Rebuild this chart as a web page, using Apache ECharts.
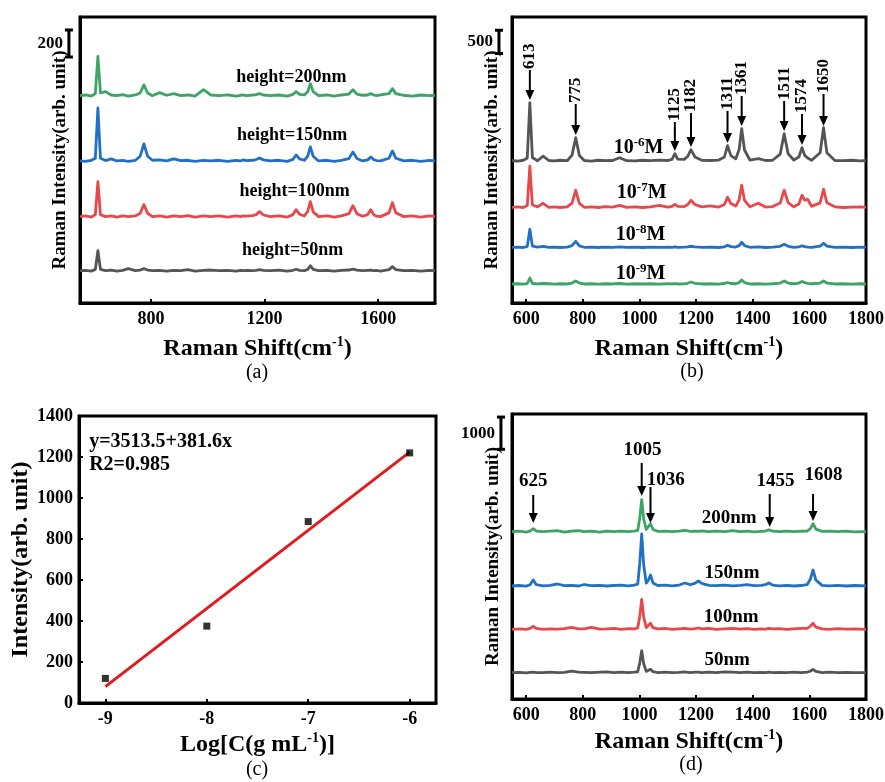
<!DOCTYPE html>
<html><head><meta charset="utf-8">
<script src="https://cdn.jsdelivr.net/npm/echarts@6/dist/echarts.min.js"></script>
<style>html,body{margin:0;padding:0;background:#fff}#c{width:885px;height:782px}</style>
</head><body><div id="c"></div><script>
// ---------- DATA ----------
// Raman shift sampling used for panels (a) and (b) (cm-1)
const SHIFT_AB = [550,570,590,604,613,622,640,660,680,700, 720,745,762,775,788,805,830,855,880,905,
  930,955,985,1010,1040,1070,1100,1115,1125,1135, 1158,1170,1182,1196,1220,1250,1280,1300,1311,1323,
  1340,1352,1361,1371,1390,1420,1445,1470,1497,1511, 1525,1545,1563,1574,1584,1594,1608,1638,1650,1662,
  1690,1720,1750,1780,1800];
// (a) intensities above each baseline (arb. unit), by pillar height
const A_50NM  = [0,3,-3,10,148,10,0,5,-3,3, 15,0,5,15,5,0,3,-3,3,0, 8,-3,3,5,0,3,-3,3,0,3, 0,3,8,3,0,5,-3,3,11,3, 0,10,37,10,0,3,-3,3,5,12, 5,0,3,5,0,3,-3,8,30,8, 0,3,-3,3,0];
const A_100NM = [0,5,-3,15,259,15,0,5,-3,5, 0,5,25,89,25,0,5,-3,5,0, 8,-3,5,0,5,-3,5,0,5,3, 8,15,37,12,0,5,-3,15,52,18, 5,40,111,35,0,5,-3,5,22,81, 22,3,15,52,15,3,0,28,104,28, 0,5,-3,5,0];
const A_150NM = [0,-3,5,20,392,20,3,15,0,5, -3,5,35,126,35,5,8,0,15,3, 5,-3,5,0,5,-3,5,0,8,3, 5,10,22,8,0,5,-3,12,44,15, 5,35,104,35,0,5,-3,5,18,67, 18,0,8,30,10,3,0,20,74,20, 0,5,-3,5,0];
const A_200NM = [0,5,-3,15,290,20,30,5,0,8, -3,5,20,80,20,0,22,3,15,0, 5,-3,44,5,0,6,-3,3,5,0, 5,8,15,5,0,5,-3,10,30,10, 5,30,89,30,0,5,-3,5,12,44, 12,3,5,15,5,0,5,15,52,15, 3,-3,5,0,3];
const A_OFFSETS = [239, 639, 1051, 1534];          // 50, 100, 150, 200 nm
const A_LABELS = ['height=50nm','height=100nm','height=150nm','height=200nm'];
const A_LABEL_X = [1299, 1306, 1297, 1294];
const A_LABEL_Y = [392, 824, 1238, 1667];
const A_SCALE = 200;

// (b) intensities above each baseline, by concentration
const B_1E6 = [5,-10,10,60,1247,70,0,100,5,-5, 10,0,120,495,110,5,-8,10,0,5, 65,0,-5,10,0,15,5,30,150,35, 30,90,237,80,10,5,15,80,323,110, 40,240,688,230,15,45,5,10,140,580, 150,15,80,280,110,60,10,170,710,170, 5,0,10,-5,5];
const B_1E7 = [0,10,-5,40,882,50,10,86,0,10, -5,10,90,366,85,0,10,-5,15,5, 43,0,10,-5,10,43,5,20,65,20, 15,55,150,60,10,32,5,60,215,80, 25,160,473,150,10,86,5,15,90,366, 100,10,70,258,150,172,20,95,387,95, 10,-5,5,10,0];
const B_1E8 = [0,5,-5,20,387,25,5,20,0,5, -5,5,35,129,30,0,5,-5,5,0, 10,0,5,-5,5,0,5,0,10,0, 5,10,22,10,0,5,-5,10,43,15, 5,35,108,35,0,10,-5,5,20,65, 20,0,10,32,15,5,0,25,86,25, 0,5,-5,5,0];
const B_1E9 = [0,5,-5,10,129,10,0,10,5,-5, 5,0,20,65,20,0,5,-5,5,0, 10,-5,5,0,5,-5,5,0,10,0, 5,15,43,15,0,5,-5,10,32,10, 5,30,86,30,0,5,-5,5,20,65, 20,5,20,54,30,15,5,20,65,20, 0,5,-5,5,0];
const B_OFFSETS = [3059, 2058, 1198, 409];         // 1e-6, 1e-7, 1e-8, 1e-9 M
const B_LABELS = ['{m|10}{s|-6}{m|M}','{m|10}{s|-7}{m|M}','{m|10}{s|-8}{m|M}','{m|10}{s|-9}{m|M}'];
const B_LABEL_X = [997, 1008, 1004, 1004];
const B_LABEL_Y = [3360, 2386, 1483, 645];
const B_PEAKS = [613, 775, 1125, 1182, 1311, 1361, 1511, 1574, 1650];
const B_PEAK_TIP  = [4365, 3612, 3268, 3354, 3440, 3806, 3698, 3397, 3806];
const B_PEAK_TAIL = [5010, 4279, 3892, 4085, 4128, 4451, 4343, 4064, 4494];
const B_SCALE = 500;

// (c) linear fit
const C_LOGC = [-9, -8, -7, -6];
const C_INT  = [120, 375, 885, 1220];
const C_FIT_X = [-9, -6];
const C_FIT_Y = [80, 1224];
const C_TEXT = ['y=3513.5+381.6x', 'R2=0.985'];
const C_TEXT_X = [-9.16, -9.16];
const C_TEXT_Y = [1273, 1161];

// (d) Raman shift sampling and intensities by thickness
const SHIFT_D = [550,575,600,614,625,636,660,685,710,735, 760,785,805,830,860,885,910,935,960,982,
  994,1001,1008,1015,1024,1031,1039,1048,1065,1090, 1115,1140,1160,1180,1197,1208,1220,1245,1270,1300,
  1330,1355,1380,1405,1430,1445,1457,1470,1495,1520, 1545,1570,1592,1603,1613,1623,1645,1670,1700,1730,
  1760,1800];
const D_50NM  = [0,10,-5,10,20,5,0,15,5,10, 46,20,10,0,15,25,5,15,0,15, 30,300,682,280,40,55,105,30,5,15, 0,10,25,5,15,20,5,15,0,25, 15,5,15,0,10,5,15,0,10,5, 15,0,20,45,105,40,5,15,0,10, 5,0];
const D_100NM = [0,10,-5,25,93,25,0,15,5,20, 62,10,15,62,5,15,30,0,20,15, 40,400,930,380,50,90,186,50,10,25, 0,15,30,5,20,40,10,25,0,15, 30,5,20,0,15,5,25,10,20,0, 15,30,30,90,186,70,15,0,20,5, 15,0];
const D_150NM = [0,15,-5,40,186,40,5,20,62,10, 20,0,46,10,20,0,15,25,5,30, 60,700,1612,650,90,170,341,90,15,25, 5,30,93,40,90,155,80,20,10,25, 5,20,46,10,20,40,93,30,5,20, 0,15,40,200,496,180,20,5,20,0, 15,5];
const D_200NM = [0,15,-10,20,93,20,0,15,30,-10, 15,30,0,15,-10,20,5,15,0,15, 40,420,992,400,70,130,248,70,10,20, 0,15,40,10,20,10,25,0,15,5, 35,0,15,-5,10,20,62,15,5,15, 0,15,20,90,248,80,10,20,0,15, -5,5];
const D_OFFSETS = [815, 2161, 3503, 5186];         // 50, 100, 150, 200 nm
const D_LABELS = ['50nm','100nm','150nm','200nm'];
const D_LABEL_X = [1310, 1324, 1327, 1317];
const D_LABEL_Y = [1209, 2542, 3906, 5611];
const D_PEAKS = ['625','1005','1036','1455','1608'];
const D_PEAK_X = [625, 1008, 1039, 1460, 1613];
const D_PEAK_TIP  = [5456, 6293, 5456, 5332, 5518];
const D_PEAK_TAIL = [6324, 7316, 6572, 6355, 6355];
const D_PEAK_LABEL_X = [625, 1011, 1093, 1480, 1650];
const D_PEAK_LABEL_Y = [6758, 7719, 6789, 6758, 6944];
const D_SCALE = 1000;

// ---------- LAYOUT / STYLE ----------
const FONT = "'Liberation Serif','Times New Roman',serif";
const COL = ['#555555', '#E8474C', '#2270C6', '#3BA466'];
const Y_MAX = [2116, 6149, 1400, 8835];
const SCALE_POS = [[511, 1820], [504, 5364], [511, 7740]]; // x value & bottom of scale bars

function richSup(size, sup) {
  return {
    m: {fontFamily: FONT, fontWeight: 'bold', fontSize: size, lineHeight: size + 2, verticalAlign: 'bottom', color: '#000', fill: '#000'},
    s: {fontFamily: FONT, fontWeight: 'bold', fontSize: sup, lineHeight: sup, verticalAlign: 'top', color: '#000', fill: '#000'}
  };
}

function lineSeries(gi, xs, ys, off, color) {
  return {type: 'line', xAxisIndex: gi, yAxisIndex: gi, data: xs.map((x, i) => [x, ys[i] + off]),
    showSymbol: false, symbol: 'none', lineStyle: {color: color, width: 2.8, join: 'round'}, itemStyle: {color: color},
    animation: false, silent: true, z: 2};
}

function textSeries(gi, xs, ys, texts, o) {
  return {type: 'custom', xAxisIndex: gi, yAxisIndex: gi, clip: false, silent: true, z: 10, animation: false,
    data: xs.map((x, i) => [x, ys[i]]),
    renderItem: (params, api) => {
      const p = api.coord([api.value(0), api.value(1)]);
      const al = o.align || 'center';
      return {type: 'text', x: p[0], y: p[1], rotation: o.rotation || 0,
        style: {text: texts[params.dataIndex], font: 'bold ' + o.size + 'px ' + FONT, fill: '#000',
          textAlign: al, align: al, textVerticalAlign: 'middle', verticalAlign: 'middle', rich: o.rich}};
    }};
}

function arrowSeries(gi, xs, tips, tails) {
  return {type: 'custom', xAxisIndex: gi, yAxisIndex: gi, clip: false, silent: true, z: 10, animation: false,
    data: xs.map((x, i) => [x, tips[i], tails[i]]),
    renderItem: (params, api) => {
      const a = api.coord([api.value(0), api.value(1)]);
      const b = api.coord([api.value(0), api.value(2)]);
      const hl = 10, hw = 4.5;
      return {type: 'group', children: [
        {type: 'line', shape: {x1: b[0], y1: b[1], x2: a[0], y2: a[1] - hl + 2}, style: {stroke: '#000', lineWidth: 2}},
        {type: 'polygon', shape: {points: [[a[0] - hw, a[1] - hl], [a[0] + hw, a[1] - hl], [a[0], a[1]]]}, style: {fill: '#000'}}
      ]};
    }};
}

function scaleBarSeries(gi, pos, size) {
  return {type: 'custom', xAxisIndex: gi, yAxisIndex: gi, clip: false, silent: true, z: 10, animation: false,
    data: [[pos[0], pos[1], pos[1] + size]],
    renderItem: (params, api) => {
      const p0 = api.coord([api.value(0), api.value(1)]);
      const p1 = api.coord([api.value(0), api.value(2)]);
      const c = 4, st = {stroke: '#000', lineWidth: 3};
      return {type: 'group', children: [
        {type: 'line', shape: {x1: p0[0], y1: p0[1], x2: p1[0], y2: p1[1]}, style: st},
        {type: 'line', shape: {x1: p0[0] - c, y1: p0[1], x2: p0[0] + c, y2: p0[1]}, style: st},
        {type: 'line', shape: {x1: p1[0] - c, y1: p1[1], x2: p1[0] + c, y2: p1[1]}, style: st},
        {type: 'text', x: p0[0] - 6, y: (p0[1] + p1[1]) / 2, style: {text: String(size), font: 'bold 17px ' + FONT, fill: '#000',
          textAlign: 'right', align: 'right', textVerticalAlign: 'middle', verticalAlign: 'middle'}}
      ]};
    }};
}

const plain = (v) => String(v);
const axisLineStyle = {show: true, onZero: false, lineStyle: {color: '#000', width: 3}};
const tickStyle = (vals) => ({show: true, inside: true, length: 4, lineStyle: {color: '#000', width: 2}, customValues: vals});
const labelStyle = (vals, margin) => ({show: true, customValues: vals, margin: margin, formatter: plain, color: '#000', fontFamily: FONT, fontWeight: 'bold', fontSize: 18});

function ramanX(gi, ticks, gap) {
  return {type: 'value', gridIndex: gi, min: 550, max: 1800,
    axisLine: axisLineStyle, axisTick: tickStyle(ticks), axisLabel: labelStyle(ticks, 7), splitLine: {show: false},
    name: '{m|Raman Shift(cm}{s|-1}{m|)}', nameLocation: 'middle', nameGap: gap,
    nameTextStyle: {fontFamily: FONT, fontWeight: 'bold', fontSize: 24, color: '#000', rich: richSup(24, 14)}};
}
function intensityY(gi, gap) {
  return {type: 'value', gridIndex: gi, min: 0, max: Y_MAX[gi],
    axisLine: axisLineStyle, axisTick: {show: false}, axisLabel: {show: false}, splitLine: {show: false},
    name: 'Raman Intensity(arb. unit)', nameLocation: 'middle', nameGap: gap,
    nameTextStyle: {fontFamily: FONT, fontWeight: 'bold', fontSize: 19, color: '#000'}};
}

const gridBase = {show: true, borderColor: '#000', borderWidth: 3, backgroundColor: 'transparent', containLabel: false, outerBoundsMode: 'none'};

const TICKS_A = [800, 1200, 1600];
const TICKS_BD = [600, 800, 1000, 1200, 1400, 1600, 1800];

const series = [];
[A_50NM, A_100NM, A_150NM, A_200NM].forEach((s, i) => series.push(lineSeries(0, SHIFT_AB, s, A_OFFSETS[i], COL[i])));
[B_1E6, B_1E7, B_1E8, B_1E9].forEach((s, i) => series.push(lineSeries(1, SHIFT_AB, s, B_OFFSETS[i], COL[i])));
[D_50NM, D_100NM, D_150NM, D_200NM].forEach((s, i) => series.push(lineSeries(3, SHIFT_D, s, D_OFFSETS[i], COL[i])));

series.push({type: 'line', xAxisIndex: 2, yAxisIndex: 2, data: C_FIT_X.map((x, i) => [x, C_FIT_Y[i]]),
  showSymbol: false, symbol: 'none', lineStyle: {color: '#E3191C', width: 3}, animation: false, silent: true, z: 2});
series.push({type: 'scatter', xAxisIndex: 2, yAxisIndex: 2, data: C_LOGC.map((x, i) => [x, C_INT[i]]),
  symbol: 'rect', symbolSize: 7, itemStyle: {color: '#000'}, animation: false, silent: true, z: 3});

series.push(textSeries(0, A_LABEL_X, A_LABEL_Y, A_LABELS, {size: 18}));
series.push(textSeries(1, B_LABEL_X, B_LABEL_Y, B_LABELS, {size: 20, rich: richSup(20, 13)}));
series.push(textSeries(1, B_PEAKS, B_PEAK_TAIL.map(v => v + 20), B_PEAKS.map(String), {size: 17, align: 'left', rotation: Math.PI / 2}));
series.push(arrowSeries(1, B_PEAKS, B_PEAK_TIP, B_PEAK_TAIL));
series.push(textSeries(2, C_TEXT_X, C_TEXT_Y, C_TEXT, {size: 20, align: 'left'}));
series.push(textSeries(3, D_LABEL_X, D_LABEL_Y, D_LABELS, {size: 19}));
series.push(textSeries(3, D_PEAK_LABEL_X, D_PEAK_LABEL_Y, D_PEAKS, {size: 19}));
series.push(arrowSeries(3, D_PEAK_X, D_PEAK_TIP, D_PEAK_TAIL));
series.push(scaleBarSeries(0, SCALE_POS[0], A_SCALE));
series.push(scaleBarSeries(1, SCALE_POS[1], B_SCALE));
series.push(scaleBarSeries(3, SCALE_POS[2], D_SCALE));

const capStyle = (t, x, y) => ({type: 'text', x: x, y: y, silent: true,
  style: {text: t, font: '20px ' + FONT, fill: '#000', textAlign: 'center', align: 'center', textVerticalAlign: 'middle', verticalAlign: 'middle'}});

const option = {
  backgroundColor: '#fff',
  animation: false,
  grid: [
    Object.assign({left: 80, top: 17, width: 355, height: 286}, gridBase),
    Object.assign({left: 512, top: 17, width: 354, height: 286}, gridBase),
    Object.assign({left: 79, top: 416, width: 357, height: 287}, gridBase),
    Object.assign({left: 512, top: 414, width: 354, height: 285}, gridBase)
  ],
  xAxis: [
    ramanX(0, TICKS_A, 32),
    ramanX(1, TICKS_BD, 32),
    {type: 'value', gridIndex: 2, min: -9.26, max: -5.74,
      axisLine: axisLineStyle, axisTick: tickStyle([-9, -8, -7, -6]), axisLabel: labelStyle([-9, -8, -7, -6], 7), splitLine: {show: false},
      name: '{m|Log[C(g mL}{s|-1}{m|)]}', nameLocation: 'middle', nameGap: 28,
      nameTextStyle: {fontFamily: FONT, fontWeight: 'bold', fontSize: 24, color: '#000', rich: richSup(24, 14)}},
    ramanX(3, TICKS_BD, 29)
  ],
  yAxis: [
    intensityY(0, 10),
    intensityY(1, 10),
    {type: 'value', gridIndex: 2, min: 0, max: 1400, interval: 200,
      axisLine: axisLineStyle, axisTick: {show: true, inside: true, length: 4, lineStyle: {color: '#000', width: 2}},
      axisLabel: {show: true, margin: 6, formatter: plain, color: '#000', fontFamily: FONT, fontWeight: 'bold', fontSize: 18},
      splitLine: {show: false},
      name: 'Intensity(arb. unit)', nameLocation: 'middle', nameGap: 46,
      nameTextStyle: {fontFamily: FONT, fontWeight: 'bold', fontSize: 24, color: '#000'}},
    intensityY(3, 9)
  ],
  series: series,
  graphic: [capStyle('(a)', 257, 373), capStyle('(b)', 692, 372), capStyle('(c)', 257, 770), capStyle('(d)', 691, 765)]
};

const chart = echarts.init(document.getElementById('c'), null, {renderer: 'canvas'});
chart.setOption(option);
</script></body></html>
